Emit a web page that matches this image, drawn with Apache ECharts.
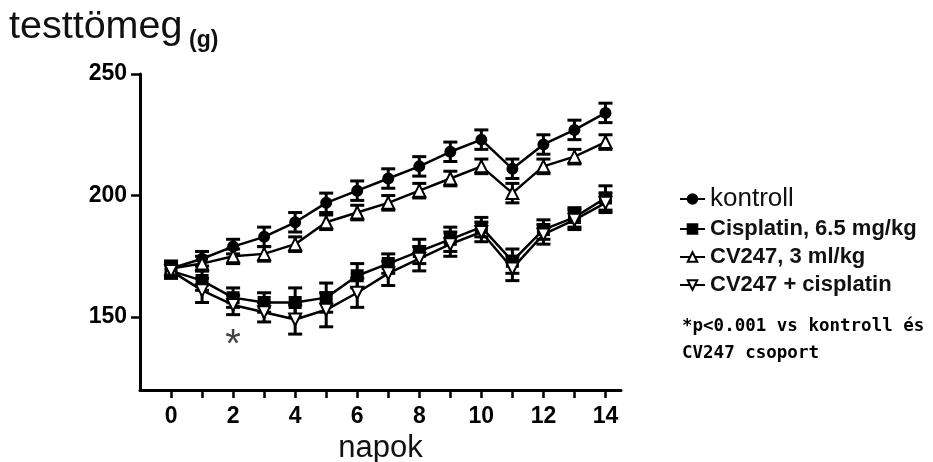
<!DOCTYPE html>
<html>
<head>
<meta charset="utf-8">
<script src="https://cdn.jsdelivr.net/npm/echarts@6/dist/echarts.min.js"></script>
<style>
html,body{margin:0;padding:0;background:#fff;}
#main{width:933px;height:462px;}
</style>
</head>
<body>
<div id="main"></div>
<script>
// napok 0..14
var days = [0,1,2,3,4,5,6,7,8,9,10,11,12,13,14];
var dayLabels = [0,2,4,6,8,10,12,14];
var yTicks = [150, 200, 250];

// testtömeg (g), átlag
var kontroll   = [170,174,179,183,189,197,202,207,212,218,223,211,221,227,234];
var cisplatin  = [169,165,158,156,156,158,167,172,177,182,187,173,186,191,199];
var cv247      = [170,172,175,176,180,189,193,197,202,207,212,201,212,216,222];
var cvCis      = [169,161,155,152,149,153,160,168,174,180,185,170,184,190,197];

// hibasavok (SEM)
var kontrollErr  = [3,3,3,4,4,4,4,4,4,4,4,4,4,4,4];
var cisplatinErr = [3,4,4,4,6,6,5,4,5,5,4,5,4,4,5];
var cv247Err     = [3,3,3,3,3,3,3,3,3,3,3,4,3,3,3];
var cvCisErr     = [3,5,4,4,6,7,6,5,5,5,4,5,4,4,4];

var names = ['kontroll','Cisplatin, 6.5 mg/kg','CV247, 3 ml/kg','CV247 + cisplatin'];

function pairs(vals){
	var out = [];
	for(var i=0;i<days.length;i++){ out.push([days[i], vals[i]]); }
	return out;
}
function errData(vals, errs){
	var out = [];
	for(var i=0;i<days.length;i++){ out.push([days[i], vals[i], errs[i]]); }
	return out;
}
function renderErr(params, api){
	var x = api.value(0), y = api.value(1), e = api.value(2);
	var hi = api.coord([x, y+e]);
	var lo = api.coord([x, y-e]);
	var w = 7;
	var st = {stroke:'#000', lineWidth:3};
	return {type:'group', children:[
		{type:'line', shape:{x1:hi[0],y1:hi[1],x2:lo[0],y2:lo[1]}, style:st},
		{type:'line', shape:{x1:hi[0]-w,y1:hi[1],x2:hi[0]+w,y2:hi[1]}, style:st},
		{type:'line', shape:{x1:lo[0]-w,y1:lo[1],x2:lo[0]+w,y2:lo[1]}, style:st}
	]};
}
function errSeries(vals, errs){
	return {type:'custom', renderItem:renderErr, data:errData(vals, errs), z:1, silent:true};
}
function lineSeries(name, vals, symbol, filled, rotate, size){
	return {
		name:name, type:'line', data:pairs(vals),
		symbol:symbol, symbolSize:size, symbolRotate:rotate || 0,
		showAllSymbol:true,
		lineStyle:{color:'#000', width:2.5},
		itemStyle:{color: filled ? '#000' : '#fff', borderColor:'#000', borderWidth:2},
		z:3
	};
}

var chart = echarts.init(document.getElementById('main'));
var cisLine = lineSeries(names[1], cisplatin, 'rect', true, 0, 11);
cisLine.markPoint = {
	symbol:'circle', symbolSize:0,
	label:{show:true, formatter:'*', color:'#444', fontSize:40, fontFamily:'Liberation Sans', offset:[0,5]},
	data:[{coord:[2,140]}]
};

chart.setOption({
	animation:false,
	textStyle:{fontFamily:'Liberation Sans'},
	grid:{left:140, top:74, width:481, height:316, outerBoundsMode:'none'},
	graphic:[
		{type:'text', left:9, top:7, style:{text:'testtömeg', font:'39.5px "Liberation Sans"', fill:'#111'}},
		{type:'text', left:189, top:29, style:{text:'(g)', font:'bold 23px "Liberation Sans"', fill:'#111'}},
		{type:'text', left:682, top:313, style:{text:'*p<0.001 vs kontroll és\nCV247 csoport', font:'bold 17.5px "DejaVu Sans Mono"', fill:'#000', lineHeight:27}}
	],
	legend:{
		orient:'vertical', left:674, top:181,
		itemWidth:25, itemHeight:12, itemGap:6,
		textStyle:{fontFamily:'Liberation Sans', fontWeight:'bold', fontSize:22, color:'#111'},
		data:[
			{name:names[0], textStyle:{fontSize:26, fontWeight:'normal'}},
			{name:names[1]},
			{name:names[2]},
			{name:names[3]}
		]
	},
	xAxis:{
		type:'value', min:-1, max:14.5,
		name:'napok', nameLocation:'middle', nameGap:38,
		nameTextStyle:{fontSize:31, color:'#111', fontFamily:'Liberation Sans'},
		splitLine:{show:false},
		axisLine:{onZero:false, lineStyle:{color:'#000', width:3}},
		axisTick:{customValues:days, length:8, lineStyle:{color:'#000', width:2.5}},
		axisLabel:{customValues:dayLabels, fontSize:23, fontWeight:'bold', color:'#000', margin:15}
	},
	yAxis:{
		type:'value', min:120, max:250,
		splitLine:{show:false},
		axisLine:{show:true, onZero:false, lineStyle:{color:'#000', width:3}},
		axisTick:{show:true, customValues:yTicks, length:9, lineStyle:{color:'#000', width:2.5}},
		axisLabel:{customValues:yTicks, fontSize:23, fontWeight:'bold', color:'#000', margin:13}
	},
	series:[
		errSeries(kontroll, kontrollErr),
		errSeries(cisplatin, cisplatinErr),
		errSeries(cv247, cv247Err),
		errSeries(cvCis, cvCisErr),
		lineSeries(names[0], kontroll, 'circle', true, 0, 10),
		cisLine,
		lineSeries(names[2], cv247, 'triangle', false, 0, 12),
		lineSeries(names[3], cvCis, 'triangle', false, 180, 12)
	]
});
</script>
</body>
</html>
